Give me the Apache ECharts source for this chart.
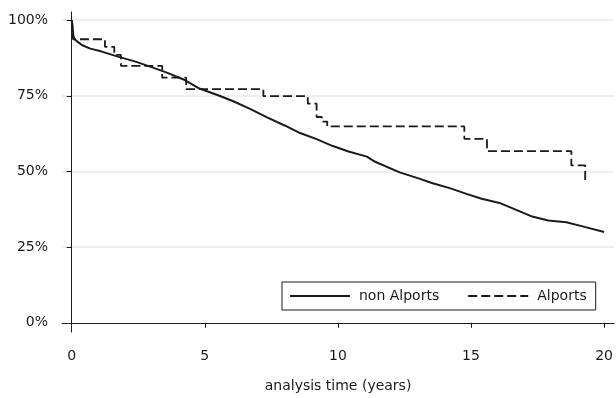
<!DOCTYPE html>
<html>
<head>
<meta charset="utf-8">
<script src="https://cdn.jsdelivr.net/npm/echarts@6/dist/echarts.min.js"></script>
<style>
html,body{margin:0;padding:0;background:#fff;}
#chart{width:616px;height:398px;}
</style>
</head>
<body>
<div id="chart"></div>
<script>
// Kaplan-Meier estimates
const seriesNames = ['non Alports', 'Alports'];
const timeNon = [0, 0.03, 0.06, 0.1, 0.2, 0.4, 0.7, 1.1, 1.8, 2.4, 3.0, 3.6, 4.2, 4.8, 5.5, 6.07, 6.7, 7.34, 8.0, 8.58, 9.2, 9.81, 10.4, 11.09, 11.4, 12.32, 13.0, 13.56, 14.2, 14.83, 15.4, 16.07, 16.7, 17.3, 17.9, 18.58, 19.3, 20.0];
const survNon = [1.0, 0.985, 0.95, 0.938, 0.93, 0.917, 0.906, 0.897, 0.878, 0.863, 0.845, 0.826, 0.804, 0.774, 0.752, 0.732, 0.707, 0.679, 0.652, 0.627, 0.607, 0.584, 0.566, 0.549, 0.532, 0.497, 0.478, 0.461, 0.445, 0.426, 0.41, 0.396, 0.373, 0.351, 0.338, 0.332, 0.316, 0.30];
const timeAlp = [0, 0.05, 1.25, 1.6, 1.85, 3.4, 4.3, 7.2, 8.87, 9.2, 9.4, 9.6, 14.75, 15.6, 18.77, 19.29];
const survAlp = [1.0, 0.937, 0.912, 0.885, 0.849, 0.81, 0.772, 0.749, 0.724, 0.68, 0.665, 0.649, 0.608, 0.567, 0.52, 0.47];
const xTicks = [0, 5, 10, 15, 20];
const yTicks = [0, 0.25, 0.5, 0.75, 1];
const xTitle = 'analysis time (years)';

const nonData = timeNon.map((t, i) => [t, survNon[i]]);
const alpData = timeAlp.map((t, i) => [t, survAlp[i]]);
const font = 'DejaVu Sans';

const chart = echarts.init(document.getElementById('chart'), null, {renderer: 'canvas'});
chart.setOption({
  animation: false,
  backgroundColor: '#fff',
  grid: {left: 62, right: 1, top: 12, bottom: 60, containLabel: false},
  xAxis: {
    type: 'value', min: -0.364, max: 20.375,
    axisLine: {show: true, lineStyle: {color: '#1a1a1a', width: 1}},
    axisTick: {show: true, length: 5, customValues: xTicks, lineStyle: {color: '#1a1a1a'}},
    axisLabel: {customValues: xTicks, margin: 17, color: '#1a1a1a', fontFamily: font, fontSize: 14},
    splitLine: {show: false},
    name: xTitle, nameLocation: 'middle', nameGap: 47,
    nameTextStyle: {color: '#1a1a1a', fontFamily: font, fontSize: 14}
  },
  yAxis: {
    type: 'value', min: -0.0305, max: 1.027,
    axisLine: {show: true, lineStyle: {color: '#1a1a1a', width: 1}},
    axisTick: {show: true, length: 5, customValues: yTicks, lineStyle: {color: '#1a1a1a'}},
    axisLabel: {customValues: yTicks, margin: 14, color: '#1a1a1a', fontFamily: font, fontSize: 14,
      formatter: v => Math.round(v * 100) + '%'},
    splitLine: {show: true, lineStyle: {color: ['rgba(0,0,0,0)', '#e8e8e8', '#e8e8e8', '#e8e8e8', '#e8e8e8'], width: 1.5}}
  },
  legend: {
    left: 282, top: 282,
    padding: [7, 9, 7, 7],
    borderColor: '#1a1a1a', borderWidth: 1,
    itemWidth: 60, itemHeight: 14, itemGap: 28,
    itemStyle: {opacity: 0},
    textStyle: {color: '#1a1a1a', fontFamily: font, fontSize: 14, padding: [0, 0, 0, 4]},
    data: seriesNames
  },
  series: [
    {
      name: seriesNames[0], type: 'line', data: nonData, showSymbol: false, symbol: 'none',
      lineStyle: {color: '#1a1a1a', width: 2}, itemStyle: {color: '#1a1a1a'}, z: 3
    },
    {
      name: seriesNames[1], type: 'line', step: 'end', data: alpData, showSymbol: false, symbol: 'none',
      lineStyle: {color: '#1a1a1a', width: 1.8, type: [9, 4]}, itemStyle: {color: '#1a1a1a'}, z: 2
    }
  ]
});
</script>
</body>
</html>
